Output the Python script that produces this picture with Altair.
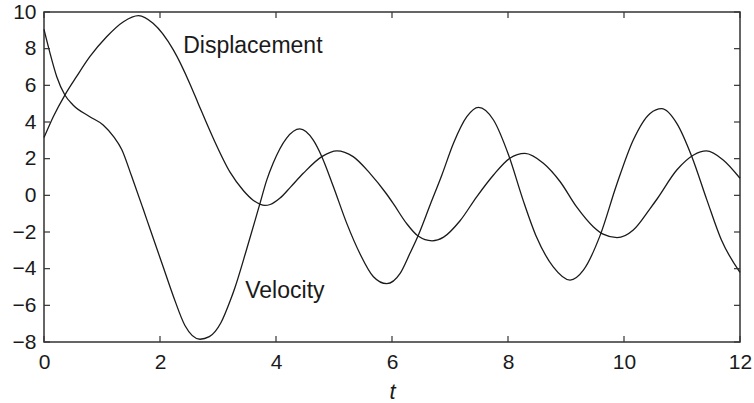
import altair as alt
import pandas as pd

# Displacement x(t)
disp_t = [0.00, 0.16, 0.36, 0.56, 0.79, 1.08, 1.37, 1.63, 1.88, 2.23, 2.52, 2.66,
          2.92, 3.21, 3.44, 3.60, 3.72, 3.81, 3.90, 4.07, 4.25, 4.47, 4.79, 5.05,
          5.33, 5.62, 5.90, 6.02, 6.25, 6.45, 6.69, 6.89, 7.17, 7.46, 7.75, 8.03,
          8.29, 8.61, 8.90, 9.18, 9.47, 9.64, 9.88, 10.16, 10.45, 10.57, 10.91,
          11.20, 11.42, 11.71, 12.00]
disp_y = [3.15, 4.29, 5.47, 6.47, 7.56, 8.65, 9.47, 9.80, 9.38, 7.93, 6.05, 5.00,
          3.10, 1.25, 0.25, -0.25, -0.48, -0.55, -0.50, -0.15, 0.45, 1.20, 2.11, 2.43,
          2.11, 1.20, 0.10, -0.44, -1.53, -2.22, -2.48, -2.28, -1.40, -0.08, 1.11, 2.02,
          2.29, 1.75, 0.74, -0.62, -1.71, -2.12, -2.31, -1.89, -0.72, -0.20, 1.38,
          2.20, 2.42, 1.93, 0.93]

# Velocity x'(t)
vel_t = [0.00, 0.10, 0.22, 0.36, 0.50, 0.79, 1.02, 1.20, 1.34, 1.51, 1.71, 1.83,
         2.06, 2.23, 2.43, 2.69, 2.85, 3.05, 3.21, 3.29, 3.49, 3.72, 3.84, 3.95,
         4.18, 4.41, 4.64, 4.79, 4.99, 5.22, 5.45, 5.68, 5.91, 6.14, 6.31, 6.45,
         6.66, 6.86, 7.06, 7.29, 7.49, 7.75, 8.01, 8.26, 8.49, 8.78, 9.07, 9.30,
         9.59, 9.87, 10.16, 10.45, 10.65, 10.91, 11.17, 11.43, 11.68, 12.00]
vel_y = [9.05, 7.80, 6.47, 5.47, 4.93, 4.29, 3.84, 3.20, 2.50, 1.05, -0.75, -1.85,
         -3.95, -5.50, -7.10, -7.85, -7.71, -6.95, -5.75, -5.05, -2.98, -0.48, 0.83, 1.75,
         3.11, 3.62, 3.02, 2.11, 0.47, -1.53, -3.20, -4.44, -4.82, -4.26, -3.16, -2.20,
         -0.50, 1.11, 2.84, 4.29, 4.80, 4.11, 2.20, -0.26, -2.26, -3.90, -4.62, -4.08,
         -2.17, 0.55, 3.02, 4.47, 4.73, 3.93, 2.11, -0.26, -2.44, -4.20]

x_ticks = [0, 2, 4, 6, 8, 10, 12]
y_ticks = [-8, -6, -4, -2, 0, 2, 4, 6, 8, 10]

label_text = ["Displacement", "Velocity"]
label_t = [2.40, 3.47]
label_y = [7.75, -5.62]

W, H = 696, 330
FONT = "Liberation Sans"
INK = "#1a1a1a"

curves = pd.concat([
    pd.DataFrame({"t": disp_t, "value": disp_y, "series": "Displacement"}),
    pd.DataFrame({"t": vel_t, "value": vel_y, "series": "Velocity"}),
])
labels = pd.DataFrame({"t": label_t, "value": label_y, "text": label_text})
xt = pd.DataFrame({"t": x_ticks})
yt = pd.DataFrame({"value": y_ticks})

xscale = alt.Scale(domain=[0, 12], nice=False, zero=False)
yscale = alt.Scale(domain=[-8, 10], nice=False, zero=False)

common = dict(
    ticks=False, domain=False, grid=False, format="d",
    labelOverlap=False, labelFlush=False, labelBound=False,
    labelFont=FONT, labelFontSize=21, labelColor=INK,
)
x_axis = alt.Axis(
    values=x_ticks, tickCount=7, labelPadding=9,
    title="t", titleFont=FONT, titleFontSize=22, titleFontStyle="italic",
    titleFontWeight="normal", titleColor=INK, titleY=56,
    titleBaseline="alphabetic", **common,
)
y_axis = alt.Axis(values=y_ticks, tickCount=10, labelPadding=8, title=None,
                  **common)

X = alt.X("t:Q", scale=xscale, axis=x_axis, title="t")
Y = alt.Y("value:Q", scale=yscale, axis=y_axis, title=None)

lines = alt.Chart(curves).mark_line(
    color=INK, strokeWidth=1.3, interpolate="monotone"
).encode(x=X, y=Y, detail="series:N")

text = alt.Chart(labels).mark_text(
    font=FONT, fontSize=23, color=INK, align="left", baseline="alphabetic"
).encode(x=X, y=Y, text="text:N")

# inward-pointing tick marks on all four sides
tick_len = 6
rule = dict(color="#333", strokeWidth=1.2)
bottom_ticks = alt.Chart(xt).mark_rule(**rule).encode(
    x=X, y=alt.value(H), y2=alt.value(H - tick_len))
top_ticks = alt.Chart(xt).mark_rule(**rule).encode(
    x=X, y=alt.value(0), y2=alt.value(tick_len))
left_ticks = alt.Chart(yt).mark_rule(**rule).encode(
    y=Y, x=alt.value(0), x2=alt.value(tick_len))
right_ticks = alt.Chart(yt).mark_rule(**rule).encode(
    y=Y, x=alt.value(W), x2=alt.value(W - tick_len))

chart = alt.layer(
    lines, text, bottom_ticks, top_ticks, left_ticks, right_ticks
).properties(
    width=W, height=H,
    autosize=alt.AutoSizeParams(type="none"),
    padding={"left": 44, "top": 12, "right": 14, "bottom": 61},
    background="white",
).configure_view(
    stroke="#333", strokeWidth=1.5,
)

chart.save("out.html", embed_options={"renderer": "svg", "actions": False})
